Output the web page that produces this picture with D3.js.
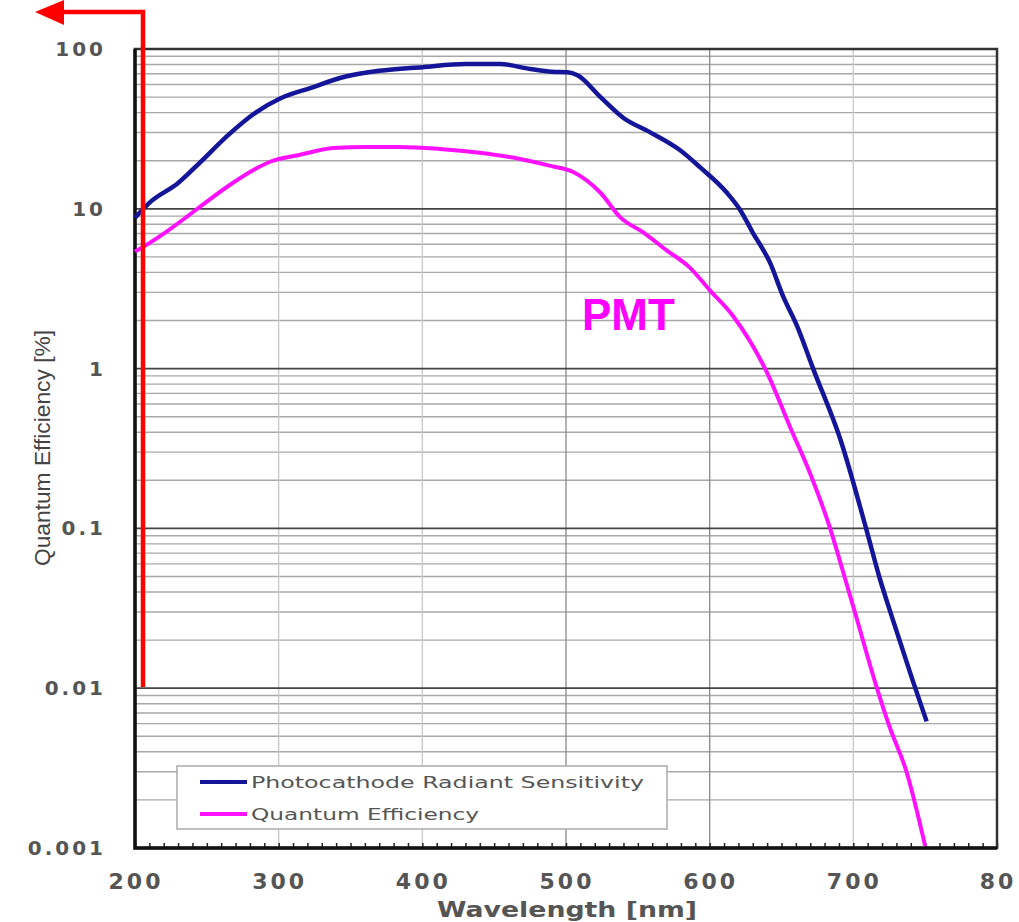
<!DOCTYPE html>
<html>
<head>
<meta charset="utf-8">
<script src="https://cdn.jsdelivr.net/npm/d3@7"></script>
<style>
  body { margin: 0; background: #fff; }
  svg { display: block; }
</style>
</head>
<body>
<div id="chart"></div>
<script>
// photocathode radiant sensitivity (blue)
var blueNm  = [200, 210, 230, 245, 265, 284, 301, 322, 346, 370, 400, 430, 454, 475, 490, 501, 508, 524, 540, 558, 579, 593, 612, 621, 630, 642, 651, 661, 672, 691, 709, 718, 728, 741, 751];
var blueVal = [8.8, 10.9, 14.5, 19.4, 29, 40, 49, 57, 67, 73, 77, 80.5, 80.5, 75, 72, 71.5, 68.5, 50, 37, 30.3, 23.4, 18.3, 12.6, 9.9, 7.1, 4.6, 2.85, 1.83, 1.0, 0.36, 0.099, 0.05, 0.026, 0.0114, 0.0062];

// quantum efficiency (magenta)
var qeNm  = [200, 206, 222, 236, 250, 268, 280, 294, 315, 338, 361, 384, 412, 440, 468, 490, 505, 524, 538, 554, 570, 586, 600, 616, 640, 656, 670, 684, 693, 702, 716, 725, 737, 750];
var qeVal = [5.4, 5.8, 7.2, 8.9, 11.1, 14.5, 17, 19.7, 21.8, 24, 24.4, 24.4, 23.7, 22.4, 20.5, 18.5, 17, 12.6, 8.8, 7.1, 5.5, 4.3, 3.1, 2.15, 0.94, 0.43, 0.22, 0.099, 0.053, 0.028, 0.0103, 0.0058, 0.003, 0.00103];

var xTicks = [200, 300, 400, 500, 600, 700, 800];
var xTickLabels = ["200", "300", "400", "500", "600", "700", "80"];
var yTicks = [0.001, 0.01, 0.1, 1, 10, 100];
var yTickLabels = ["0.001", "0.01", "0.1", "1", "10", "100"];
var legendNames = ["Photocathode Radiant Sensitivity", "Quantum Efficiency"];

var W = 1019, H = 922;
var pL = 135, pR = 997, pT = 49, pB = 848;

var svg = d3.select("#chart")
  .append("svg")
    .attr("width", W)
    .attr("height", H);

var x = d3.scaleLinear()
    .domain([200, 800])
    .range([pL, pR]);

var y = d3.scaleLog()
    .domain([0.001, 100])
    .range([pB, pT]);

// minor horizontal grid (2..9 of every decade)
var minor = [];
for (var e = -3; e < 2; e++) {
  for (var m = 2; m <= 9; m++) minor.push(m * Math.pow(10, e));
}
svg.append("g")
  .selectAll("line")
  .data(minor)
  .enter()
  .append("line")
    .attr("x1", pL).attr("x2", pR)
    .attr("y1", function (d) { return y(d); })
    .attr("y2", function (d) { return y(d); })
    .attr("stroke", "#a8a8a8")
    .attr("stroke-width", 1.4);

// vertical grid
svg.append("g")
  .selectAll("line")
  .data(xTicks.slice(1, -1))
  .enter()
  .append("line")
    .attr("x1", function (d) { return x(d); })
    .attr("x2", function (d) { return x(d); })
    .attr("y1", pT).attr("y2", pB)
    .attr("stroke", function (d) { return (d == 500 || d == 600) ? "#8a8a8a" : "#c8c8c8"; })
    .attr("stroke-width", 1.3);

// major horizontal grid
svg.append("g")
  .selectAll("line")
  .data(yTicks.slice(1, -1))
  .enter()
  .append("line")
    .attr("x1", pL).attr("x2", pR)
    .attr("y1", function (d) { return y(d); })
    .attr("y2", function (d) { return y(d); })
    .attr("stroke", "#444")
    .attr("stroke-width", 1.8);

// bottom axis with inward minor ticks
var xAxis = d3.axisBottom(x)
    .tickValues(d3.range(200, 801, 10))
    .tickSize(-5)
    .tickFormat("");
svg.append("g")
    .attr("transform", "translate(0," + pB + ")")
    .call(xAxis)
    .call(function (g) { g.select(".domain").remove(); })
    .selectAll("line")
      .attr("stroke", "#222")
      .attr("stroke-width", 1.5);

// frame
svg.append("rect")
    .attr("x", pL).attr("y", pT)
    .attr("width", pR - pL).attr("height", pB - pT)
    .attr("fill", "none")
    .attr("stroke", "#333")
    .attr("stroke-width", 2.5);
svg.append("path")
    .attr("d", "M" + pL + "," + pT + "V" + pB + "H" + pR)
    .attr("fill", "none")
    .attr("stroke", "#111")
    .attr("stroke-width", 3.5);

// tick labels
svg.append("g")
  .selectAll("text")
  .data(xTicks)
  .enter()
  .append("text")
    .attr("x", function (d) { return x(d) + 1; })
    .attr("y", 889)
    .attr("text-anchor", "middle")
    .attr("font-family", "DejaVu Sans")
    .attr("font-size", 22)
    .attr("font-weight", "bold")
    .attr("letter-spacing", 3)
    .attr("fill", "#555")
    .text(function (d, i) { return xTickLabels[i]; });

svg.append("g")
  .selectAll("text")
  .data(yTicks)
  .enter()
  .append("text")
    .attr("x", 106)
    .attr("y", function (d) { return y(d) + 7; })
    .attr("text-anchor", "end")
    .attr("font-family", "DejaVu Sans")
    .attr("font-size", 20)
    .attr("font-weight", "bold")
    .attr("letter-spacing", 3)
    .attr("fill", "#555")
    .text(function (d, i) { return yTickLabels[i]; });

// axis titles
svg.append("text")
    .text("Wavelength [nm]")
    .attr("x", 437)
    .attr("y", 917)
    .attr("font-family", "DejaVu Sans")
    .attr("font-size", 21)
    .attr("font-weight", "bold")
    .attr("fill", "#555")
    .attr("textLength", 260)
    .attr("lengthAdjust", "spacingAndGlyphs");

svg.append("text")
    .text("Quantum Efficiency [%]")
    .attr("transform", "translate(50,448) rotate(-90)")
    .attr("text-anchor", "middle")
    .attr("font-family", "Liberation Sans Narrow, Liberation Sans, sans-serif")
    .attr("font-size", 22)
    .attr("fill", "#444")
    .attr("textLength", 236)
    .attr("lengthAdjust", "spacingAndGlyphs");

// curves
var line = d3.line()
    .x(function (d) { return x(d[0]); })
    .y(function (d) { return y(d[1]); })
    .curve(d3.curveMonotoneX);

svg.append("path")
    .datum(d3.zip(qeNm, qeVal))
    .attr("fill", "none")
    .attr("stroke", "#ff10ff")
    .attr("stroke-width", 4)
    .attr("d", line);

svg.append("path")
    .datum(d3.zip(blueNm, blueVal))
    .attr("fill", "none")
    .attr("stroke", "#15159a")
    .attr("stroke-width", 4.5)
    .attr("d", line);

// legend
var lg = svg.append("g");
lg.append("rect")
    .attr("x", 177).attr("y", 766)
    .attr("width", 490).attr("height", 63)
    .attr("fill", "#fff")
    .attr("stroke", "#aaa")
    .attr("stroke-width", 1.5);
var legendColors = ["#15159a", "#ff10ff"];
var legendLen = [393, 228];
legendNames.forEach(function (name, i) {
  var ly = 782 + i * 32;
  lg.append("line")
      .attr("x1", 200).attr("x2", 247)
      .attr("y1", ly).attr("y2", ly)
      .attr("stroke", legendColors[i])
      .attr("stroke-width", 4);
  lg.append("text")
      .text(name)
      .attr("x", 251)
      .attr("y", ly + 6)
      .attr("font-family", "DejaVu Sans")
      .attr("font-size", 16)
      .attr("fill", "#555")
      .attr("textLength", legendLen[i])
      .attr("lengthAdjust", "spacingAndGlyphs");
});

// PMT label
svg.append("text")
    .text("PMT")
    .attr("x", 582)
    .attr("y", 330)
    .attr("font-family", "Liberation Sans, Arial, sans-serif")
    .attr("font-weight", "bold")
    .attr("font-size", 44)
    .attr("fill", "#ff00ff");

// red arrow
svg.append("path")
    .attr("d", "M143,687V12H62")
    .attr("fill", "none")
    .attr("stroke", "#ff0000")
    .attr("stroke-width", 4.5);
svg.append("path")
    .attr("d", "M35,12L64,0L64,25Z")
    .attr("fill", "#ff0000");
</script>
</body>
</html>
